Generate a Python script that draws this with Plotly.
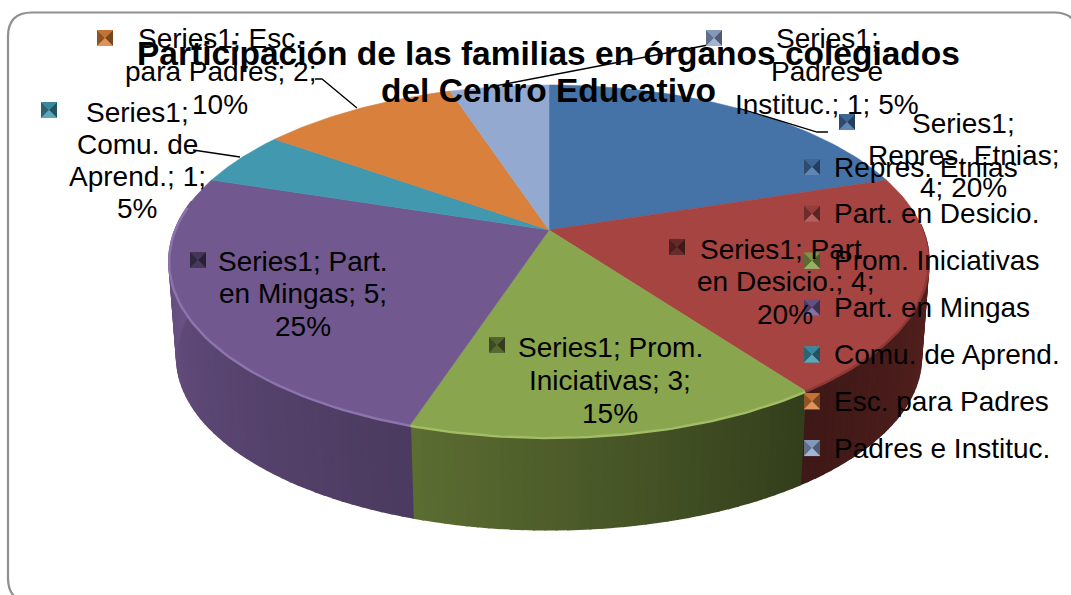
import numpy as np
import plotly.graph_objects as go

# ---- data ----
categories = ["Repres. Etnias", "Part. en Desicio.", "Prom. Iniciativas", "Part. en Mingas",
              "Comu. de Aprend.", "Esc. para Padres", "Padres e Instituc."]
values = [4, 4, 3, 5, 1, 2, 1]
series_name = "Series1"
title_lines = ["Participación de las familias en órganos colegiados", "del Centro Educativo"]

# ---- style / layout ----
COLORS = ["#4572A7", "#A64442", "#89A54E", "#71588F", "#4198AF", "#D8803C", "#93A9CF"]
FONT = "Liberation Sans, Arial, sans-serif"
W, H = 1071, 595
CX, CY, A, B, P = 549, 230, 374, 170.5, 0.176
DEPTH, LOW = 97, 0.98

WALL = {  # wall shade at the start / end of each visible slice wall
    1: ("#5c2422", "#3f1917"),
    2: ("#333f1c", "#5c6d32"),
    3: ("#4c3b60", "#6c5489"),
}
RIM = {1: "#8c3835", 2: "#a3bd66", 3: "#8d74ad"}

# label: word counts per line, line centre x, first-line y, line step, icon (x, y), dim
LABELS = {
    0: ([1, 2, 2], 963, 123, 32, (847, 122), 1.0),
    1: ([2, 3, 1], 785, 249, 32.5, (677, 247), 0.68),
    2: ([2, 2, 1], 610, 347, 33, (497, 345), 0.68),
    3: ([2, 3, 1], 303, 261, 32.5, (198, 260), 0.68),
    4: ([1, 2, 2, 1], 137, 112, 32, (49, 110), 1.0),
    5: ([2, 3, 1], 220, 38, 33, (105, 38), 1.0),
    6: ([1, 2, 4], 827, 38, 33, (714, 38), 1.0),
}
LEGEND_Y0, LEGEND_STEP, LEGEND_ICON_X, LEGEND_TEXT_X = 167, 46.85, 812, 832
LEADERS = [
    ([315, 322, 357], [79, 79, 108]),
    ([193, 240], [150, 157]),
    ([495, 708], [86, 45]),
    ([738, 817, 828], [108, 132, 132]),
]


def project(theta_deg, low=False):
    t = np.radians(theta_deg)
    u, v = np.sin(t), np.cos(t)
    w = 1 + P * v
    s, d = (LOW, DEPTH) if low else (1.0, 0.0)
    return CX + s * A * u / w, CY + d - s * B * v / w


def hex_rgb(c):
    return np.array([int(c[i:i + 2], 16) for i in (1, 3, 5)], float)


def shade(c, f):
    rgb = hex_rgb(c) * f if f <= 1 else hex_rgb(c) + (255 - hex_rgb(c)) * (f - 1)
    return "rgb(%d,%d,%d)" % tuple(np.clip(rgb, 0, 255))


def mix(c1, c2, t):
    return "rgb(%d,%d,%d)" % tuple(hex_rgb(c1) * (1 - t) + hex_rgb(c2) * t)


def poly(x, y, color, line=0.6):
    return go.Scatter(x=list(x), y=list(y), mode="lines", fill="toself", fillcolor=color,
                      line=dict(color=color, width=line), hoverinfo="skip", showlegend=False)


def icon(cx, cy, color, dim=1.0, r=8):
    l, rr, t, b = cx - r, cx + r, cy - r, cy + r
    base = shade(color, dim)
    parts = [poly([l, rr, rr, l, l], [t, t, b, b, t], base, 0)]
    parts.append(poly([l, cx, l, l], [t, cy, b, t], shade(color, 0.66 * dim), 0))
    parts.append(poly([rr, cx, rr, rr], [t, cy, b, t], shade(color, 0.55 * dim), 0))
    parts.append(poly([l, rr, cx, l], [t, t, cy, t], shade(color, 0.9 * dim), 0))
    parts.append(poly([l, rr, cx, l], [b, b, cy, b], shade(color, 1.15 if dim == 1 else 0.95 * dim), 0))
    return parts


fig = go.Figure()

# slice angles follow from the values
edges = np.concatenate([[0], np.cumsum(values)]) / sum(values) * 360

# side wall: narrow strips, graded per slice
for i in range(len(values)):
    if i not in WALL:
        continue
    a0, a1 = max(edges[i], 88), min(edges[i + 1], 280)
    n = int((a1 - a0) / 1.5) + 1
    steps = np.linspace(a0, a1, n + 1)
    for k in range(n):
        s0, s1 = steps[k], steps[k + 1]
        tx0, ty0 = project(s0)
        tx1, ty1 = project(s1)
        lx0, ly0 = project(s0, True)
        lx1, ly1 = project(s1, True)
        col = mix(*WALL[i], k / max(1, n - 1))
        fig.add_trace(poly([tx0, tx1, lx1, lx0, tx0], [ty0, ty1, ly1, ly0, ty0], col, 1.6))

# top face
for i, c in enumerate(COLORS):
    th = np.linspace(edges[i], edges[i + 1], 60)
    x, y = project(th)
    fig.add_trace(poly(np.r_[CX, x, CX], np.r_[CY, y, CY], c))

# rim highlight along the near edge
for i in RIM:
    th = np.linspace(max(edges[i], 100), min(edges[i + 1], 278), 60)
    x, y = project(th)
    fig.add_trace(go.Scatter(x=x, y=y + 1, mode="lines", line=dict(color=RIM[i], width=2.5),
                             hoverinfo="skip", showlegend=False))

# leader lines
for lx, ly in LEADERS:
    fig.add_trace(go.Scatter(x=lx, y=ly, mode="lines", line=dict(color="black", width=1.3),
                             hoverinfo="skip", showlegend=False))

# icons
for i, (_, _, _, _, pos, dim) in LABELS.items():
    for t in icon(pos[0], pos[1], COLORS[i], dim):
        fig.add_trace(t)
for i, c in enumerate(COLORS):
    for t in icon(LEGEND_ICON_X, LEGEND_Y0 + i * LEGEND_STEP, c):
        fig.add_trace(t)

annotations = []


def text(x, y, s, size=28, bold=False, anchor="center"):
    annotations.append(dict(x=x, y=y, xref="x", yref="y", text=f"<b>{s}</b>" if bold else s,
                            showarrow=False, xanchor=anchor, yanchor="middle",
                            font=dict(family=FONT, size=size, color="black")))


# data labels
total = sum(values)
for i, (counts, cx, y0, step, _, _) in LABELS.items():
    words = f"{series_name}; {categories[i]}; {values[i]}; {round(values[i] / total * 100)}%".split(" ")
    p = 0
    for n, cnt in enumerate(counts):
        text(cx, y0 + n * step, " ".join(words[p:p + cnt]))
        p += cnt

# legend
for i, name in enumerate(categories):
    text(LEGEND_TEXT_X, LEGEND_Y0 + i * LEGEND_STEP, name, anchor="left")

# title
text(548, 53, title_lines[0], size=33.5, bold=True)
text(548, 90, title_lines[1], size=33.5, bold=True)

# rounded frame
L, T, R, Bt, r = 8, 12.5, 1078, 602, 24
frame = (f"M {L} {T + r} Q {L} {T} {L + r} {T} L {R - r} {T} Q {R} {T} {R} {T + r} "
         f"L {R} {Bt - r} Q {R} {Bt} {R - r} {Bt} L {L + r} {Bt} Q {L} {Bt} {L} {Bt - r} Z")

fig.update_layout(
    width=W, height=H, margin=dict(l=0, r=0, t=0, b=0), paper_bgcolor="white", plot_bgcolor="white",
    showlegend=False, annotations=annotations,
    xaxis=dict(range=[0, W], visible=False, fixedrange=True),
    yaxis=dict(range=[H, 0], visible=False, fixedrange=True),
    shapes=[dict(type="path", path=frame, xref="x", yref="y", line=dict(color="#8f8f8f", width=2.2), layer="below")],
)

fig.write_html("out.html", config={"displayModeBar": False},
               post_script="document.body.style.margin='0';document.body.style.overflow='hidden';")
